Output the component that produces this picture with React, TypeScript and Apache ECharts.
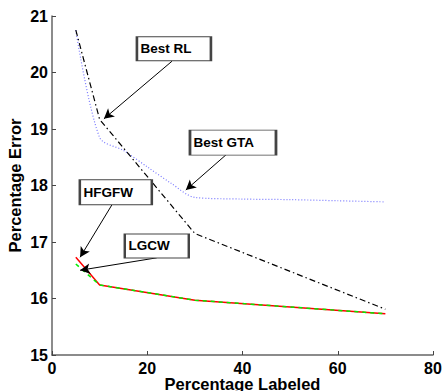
import React, { useEffect, useRef } from "react";
import * as echarts from "echarts";

const xRL = [5, 10, 30, 70];
const yRL = [20.75, 19.17, 17.15, 15.81];
const xGTA = [5, 10, 15, 20, 25, 30, 40, 50, 60, 70];
const yGTA = [20.75, 18.85, 18.62, 18.33, 18.04, 17.79, 17.76, 17.75, 17.73, 17.71];
const xHF = [5, 10, 30, 70];
const yHF = [16.73, 16.24, 15.97, 15.73];
const xLG = [5, 10, 30, 70];
const yLG = [16.61, 16.24, 15.97, 15.73];

const xTicks = [0, 80, 20];
const yTicks = [15, 21, 1];

// annotation boxes: label, center x, center y, width, height
const boxLabels = ["Best RL", "Best GTA", "HFGFW", "LGCW"];
const boxX = [25.6, 38.0, 13.4, 22.0];
const boxY = [20.42, 18.76, 17.88, 16.93];
const boxW = [74, 86, 72, 64];
const boxH = [24, 25, 25, 24];
// arrows: from -> to (data coords)
const arrFromX = [25.2, 36.5, 12.6, 22.0];
const arrFromY = [20.2, 18.54, 17.66, 16.72];
const arrToX = [10.9, 28.1, 5.9, 5.9];
const arrToY = [19.18, 17.92, 16.73, 16.5];

const zip = (a: number[], b: number[]) => a.map((v, i) => [v, b[i]]);

export default function App() {
  const ref = useRef<HTMLDivElement>(null);
  useEffect(() => {
    if (!ref.current) return;
    document.body.style.margin = "0";
    document.body.style.overflow = "hidden";
    const chart = echarts.init(ref.current, undefined, { renderer: "svg" });
    const font = "Liberation Sans, Arial, sans-serif";
    const axisLine = { lineStyle: { color: "#666", width: 1.5 } };
    const axisTick = { inside: true, length: 4, lineStyle: { color: "#444", width: 1 } };
    chart.setOption({
      animation: false,
      backgroundColor: "#fff",
      grid: { left: 52, right: 12, top: 16, bottom: 36, outerBoundsMode: "none", containLabel: false },
      xAxis: {
        type: "value",
        min: xTicks[0],
        max: xTicks[1],
        interval: xTicks[2],
        name: "Percentage Labeled",
        nameLocation: "middle",
        nameGap: 21,
        nameMoveOverlap: false,
        nameTextStyle: { fontFamily: font, fontWeight: "bold", fontSize: 16.5, color: "#000", lineHeight: 15 },
        axisLine,
        axisTick,
        axisLabel: { fontFamily: font, fontWeight: "bold", fontSize: 16, color: "#000", margin: 6, lineHeight: 14 },
        splitLine: { show: false },
      },
      yAxis: {
        type: "value",
        min: yTicks[0],
        max: yTicks[1],
        interval: yTicks[2],
        name: "Percentage Error",
        nameLocation: "middle",
        nameGap: 29,
        nameMoveOverlap: false,
        nameRotate: 90,
        nameTextStyle: { fontFamily: font, fontWeight: "bold", fontSize: 16.5, color: "#000" },
        axisLine,
        axisTick,
        axisLabel: { fontFamily: font, fontWeight: "bold", fontSize: 16, color: "#000", margin: 4 },
        splitLine: { show: false },
      },
      series: [
        {
          type: "line",
          name: "Best GTA",
          data: zip(xGTA, yGTA),
          showSymbol: false,
          smooth: 0.3,
          lineStyle: { color: "#7777ff", width: 1.2, type: [1, 2] },
          silent: true,
        },
        {
          type: "line",
          name: "Best RL",
          data: zip(xRL, yRL),
          showSymbol: false,
          lineStyle: { color: "#000", width: 1.2, type: [6, 3, 1.5, 3] },
          silent: true,
        },
        {
          type: "line",
          name: "HFGFW",
          data: zip(xHF, yHF),
          showSymbol: false,
          lineStyle: { color: "#ff0000", width: 1.5 },
          silent: true,
        },
        {
          type: "line",
          name: "LGCW",
          data: zip(xLG, yLG),
          showSymbol: false,
          lineStyle: { color: "#00ee00", width: 1.5, type: [4, 4] },
          silent: true,
          markLine: {
            silent: true,
            symbol: ["none", "arrow"],
            symbolSize: [8, 10],
            label: { show: false },
            lineStyle: { color: "#000", width: 1, type: "solid" },
            emphasis: { disabled: true },
            data: arrFromX.map((x, i) => [
              { coord: [x, arrFromY[i]] },
              { coord: [arrToX[i], arrToY[i]] },
            ]),
          },
          markPoint: {
            silent: true,
            symbol: "rect",
            data: boxLabels.map((l, i) => ({
              name: l,
              coord: [boxX[i], boxY[i]],
              symbolSize: [boxW[i], boxH[i]],
              label: {
                show: true,
                position: "insideLeft",
                distance: 5,
                formatter: l,
                fontFamily: font,
                fontWeight: "bold",
                fontSize: 13.5,
                color: "#000",
              },
              itemStyle: { color: "#fff", borderColor: "#444", borderWidth: 1.5 },
            })),
          },
        },
      ],
    });
    return () => chart.dispose();
  }, []);
  return <div ref={ref} style={{ width: 445, height: 391 }} />;
}
